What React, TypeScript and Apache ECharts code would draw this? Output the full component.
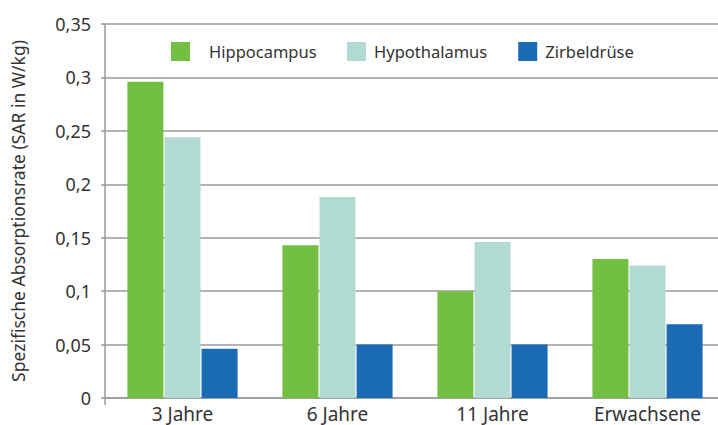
import React, { useEffect, useRef } from "react";
import * as echarts from "echarts";

const categories = ["3 Jahre", "6 Jahre", "11 Jahre", "Erwachsene"];
const seriesNames = ["Hippocampus", "Hypothalamus", "Zirbeldrüse"];
const hippocampus = [0.296, 0.143, 0.1, 0.13];
const hypothalamus = [0.244, 0.188, 0.146, 0.124];
const zirbeldruese = [0.046, 0.05, 0.05, 0.069];
const colors = ["#72BF44", "#B1DAD2", "#1A6AB4"];
const yAxisName = "Spezifische Absorptionsrate (SAR in W/kg)";

const FONT = "'Noto Sans', sans-serif";

const legendBase = {
  top: 42,
  padding: 0,
  itemWidth: 19,
  itemHeight: 19,
  itemGap: 31,
  icon: "rect",
};

export default function App() {
  const ref = useRef<HTMLDivElement>(null);
  useEffect(() => {
    if (!ref.current) return;
    const chart = echarts.init(ref.current, undefined, { renderer: "svg" });
    const data = [hippocampus, hypothalamus, zirbeldruese];
    chart.setOption({
      animation: false,
      textStyle: { fontFamily: FONT },
      grid: {
        left: 105,
        top: 24,
        bottom: 27,
        right: -7,
        containLabel: false,
        outerBoundsMode: "none",
      },
      legend: [
        {
          ...legendBase,
          left: 171,
          data: [seriesNames[0]],
          textStyle: { fontFamily: FONT, fontSize: 16.5, color: "#333", padding: [0, 0, 0, 14] },
        },
        {
          ...legendBase,
          left: 347,
          data: seriesNames.slice(1),
          textStyle: { fontFamily: FONT, fontSize: 16.5, color: "#333", padding: [0, 0, 0, 3] },
        },
      ],
      xAxis: {
        type: "category",
        data: categories,
        axisLine: { lineStyle: { color: "#9a9a9a", width: 1.5 } },
        axisTick: {
          show: true,
          length: 7,
          interval: (i: number) => i === 0,
          lineStyle: { color: "#9a9a9a", width: 1.5 },
        },
        axisLabel: { fontSize: 19, color: "#333", margin: 6, fontFamily: FONT },
      },
      yAxis: {
        type: "value",
        min: 0,
        max: 0.35,
        interval: 0.05,
        name: yAxisName,
        nameLocation: "middle",
        nameRotate: 90,
        nameGap: 78,
        nameTextStyle: { fontSize: 17.5, color: "#333", fontFamily: FONT },
        axisLine: { show: true, lineStyle: { color: "#9a9a9a", width: 1.5 } },
        axisTick: { show: true, length: 4, lineStyle: { color: "#9a9a9a", width: 1.5 } },
        splitLine: { show: true, lineStyle: { color: "#9a9a9a", width: 1.5 } },
        axisLabel: {
          fontSize: 18,
          color: "#333",
          margin: 14,
          fontFamily: FONT,
          formatter: (v: number) => String(+v.toFixed(2)).replace(".", ","),
        },
      },
      series: seriesNames.map((name, i) => ({
        name,
        type: "bar",
        data: data[i],
        barWidth: 36,
        barGap: "3%",
        itemStyle: { color: colors[i] },
      })),
    });
    return () => chart.dispose();
  }, []);
  return <div ref={ref} style={{ width: 718, height: 425, position: "absolute", left: 0, top: 0 }} />;
}
